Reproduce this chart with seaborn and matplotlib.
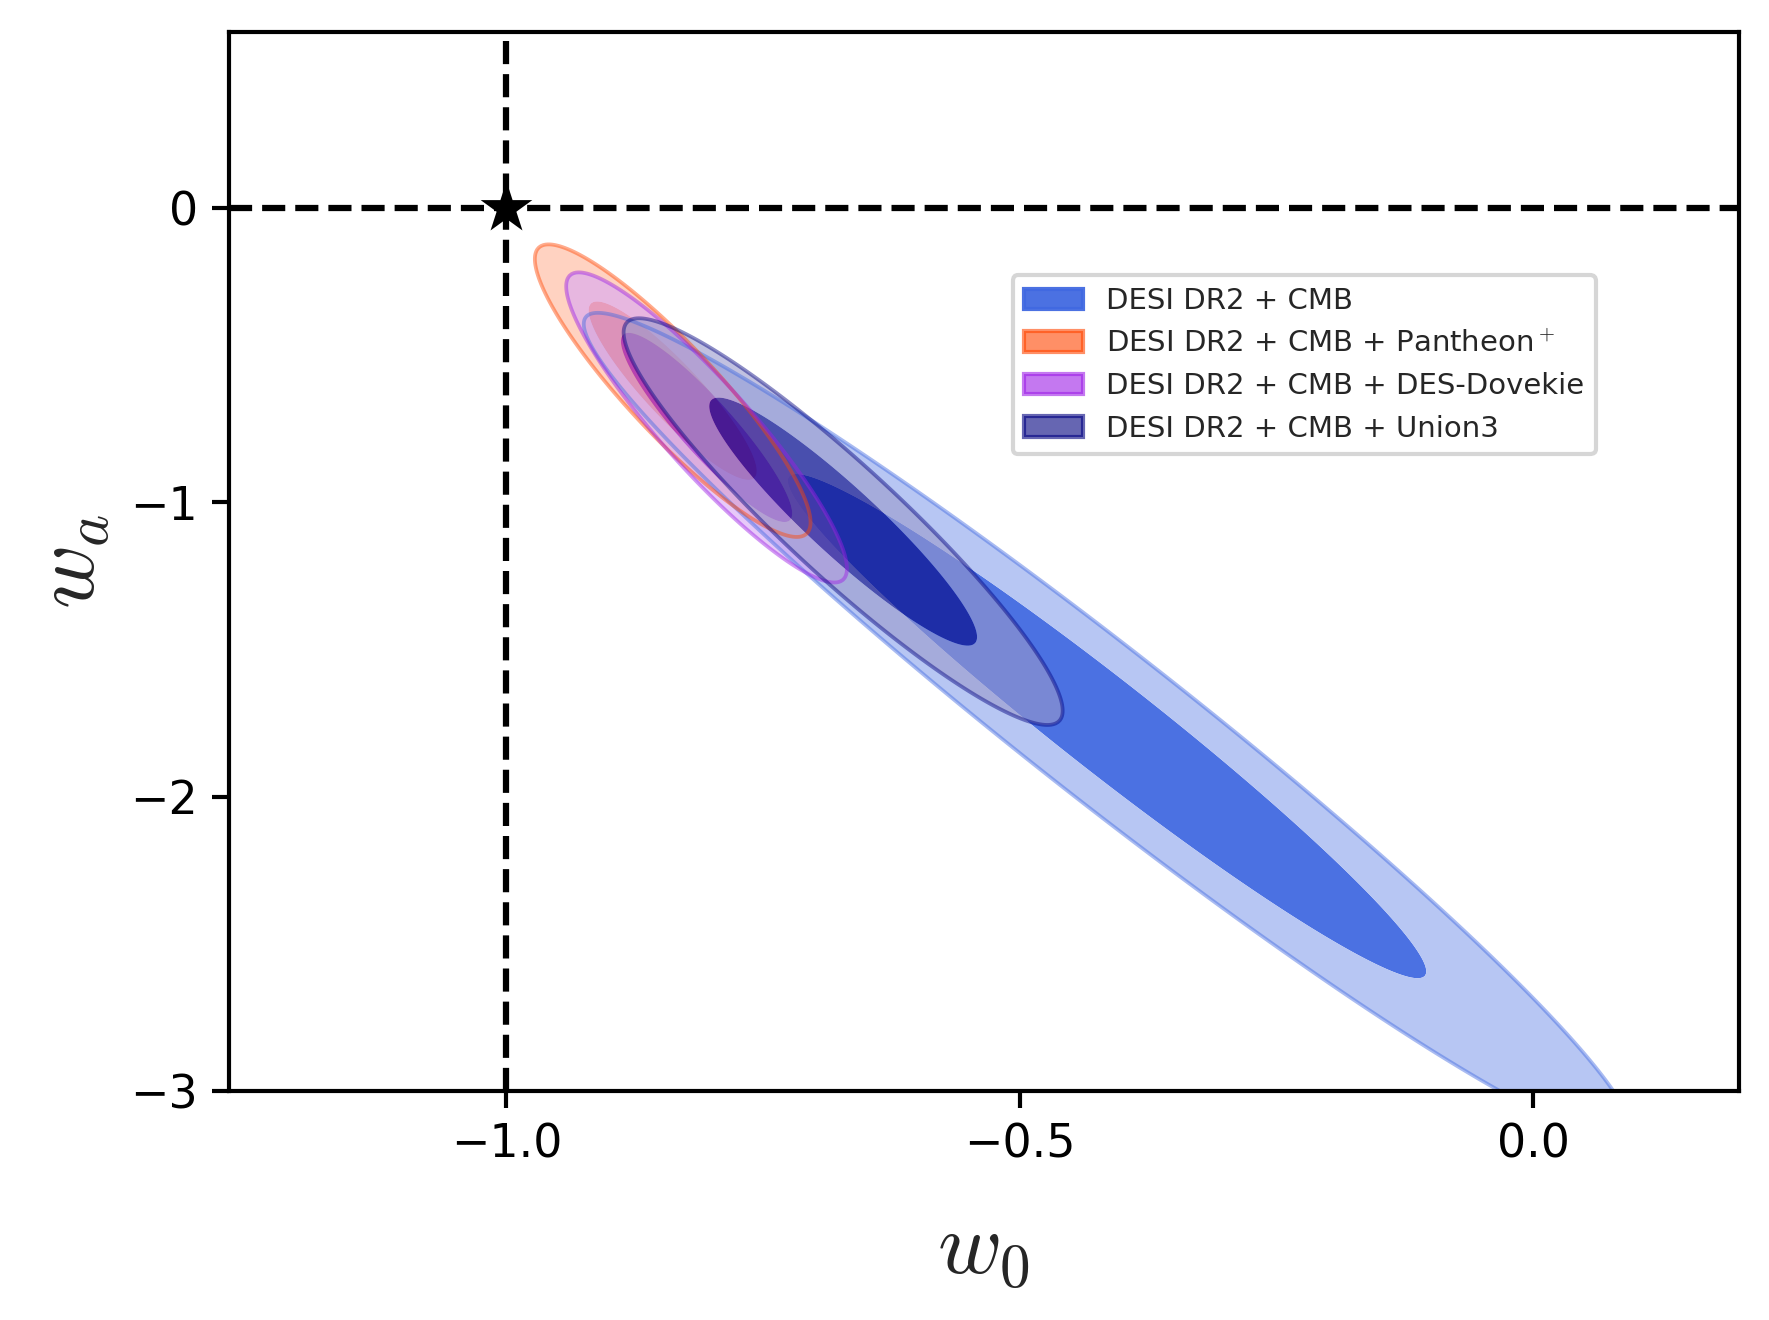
import numpy as np
import matplotlib
matplotlib.use("Agg")
import matplotlib.pyplot as plt
import seaborn as sns
from matplotlib.patches import Patch
from matplotlib.colors import to_rgb

# ---------------- data ----------------
labels = ["DESI DR2 + CMB",
          r"DESI DR2 + CMB + Pantheon$^+$",
          "DESI DR2 + CMB + DES-Dovekie",
          "DESI DR2 + CMB + Union3"]
w0_mean = [-0.415, -0.838, -0.805, -0.672]
wa_mean = [-1.76, -0.62, -0.745, -1.065]
w0_sigma = [0.205, 0.054, 0.055, 0.086]
wa_sigma = [0.565, 0.200, 0.212, 0.278]
corr = [-0.973, -0.90, -0.91, -0.93]
colors = ["royalblue", "orangered", "#9d1ee6", "navy"]
alphas = [0.95, 0.6, 0.6, 0.6]
levels_chi2 = [2.30, 6.18]          # 68% and 95% 2D confidence
lcdm_w0, lcdm_wa = [-1.0], [0.0]
xticks = [-1.0, -0.5, 0.0]
yticks = [-3, -2, -1, 0]

# ---------------- style ----------------
sns.set_style("ticks")
plt.rcParams.update({
    "font.family": ["DejaVu Sans"],
    "mathtext.fontset": "cm",
    "axes.edgecolor": "black",
    "axes.linewidth": 1.0,
    "xtick.color": "black",
    "ytick.color": "black",
    "xtick.major.width": 1.0,
    "ytick.major.width": 1.0,
    "xtick.major.size": 4.0,
    "ytick.major.size": 4.0,
    "xtick.labelsize": 11,
    "ytick.labelsize": 11,
})

fig = plt.figure(figsize=(1769 / 300, 1320 / 300), dpi=300)
ax = fig.add_axes([0.1295, 0.1735, 0.8533, 0.8025])

W0, WA = np.meshgrid(np.linspace(-1.45, 0.45, 900), np.linspace(-3.8, 0.9, 900))

handles = []
for m0, ma, s0, sa, r, c, a, lab in zip(w0_mean, wa_mean, w0_sigma, wa_sigma,
                                        corr, colors, alphas, labels):
    dx = (W0 - m0) / s0
    dy = (WA - ma) / sa
    chi2 = (dx ** 2 - 2 * r * dx * dy + dy ** 2) / (1 - r ** 2)
    rgb = np.array(to_rgb(c))
    light = 0.4 * rgb + 0.6
    ax.contourf(W0, WA, chi2, levels=[0, levels_chi2[0], levels_chi2[1]],
                colors=[rgb, light], alpha=a, antialiased=True)
    ax.contour(W0, WA, chi2, levels=[levels_chi2[1]], colors=[c],
               alpha=0.45, linewidths=0.9)
    handles.append(Patch(facecolor=c, edgecolor=c, alpha=a, lw=1.0, label=lab))

ax.axvline(lcdm_w0[0], color="black", ls="--", lw=1.5, zorder=5)
ax.axhline(lcdm_wa[0], color="black", ls="--", lw=1.5, zorder=5)
sns.scatterplot(x=lcdm_w0, y=lcdm_wa, marker="*", s=170, color="black",
                edgecolor="black", linewidth=0, ax=ax, zorder=6)

ax.set_xlim(-1.27, 0.2)
ax.set_ylim(-3.0, 0.6)
ax.set_xticks(xticks)
ax.set_yticks(yticks)
ax.set_xlabel(r"$w_0$", fontsize=21, labelpad=9.5)
ax.set_ylabel(r"$w_a$", fontsize=21, labelpad=4)

ax.legend(handles=handles, loc="upper left", bbox_to_anchor=(0.519, 0.770),
          borderaxespad=0, fontsize=7, frameon=True)

fig.savefig("out.png", dpi=300)
